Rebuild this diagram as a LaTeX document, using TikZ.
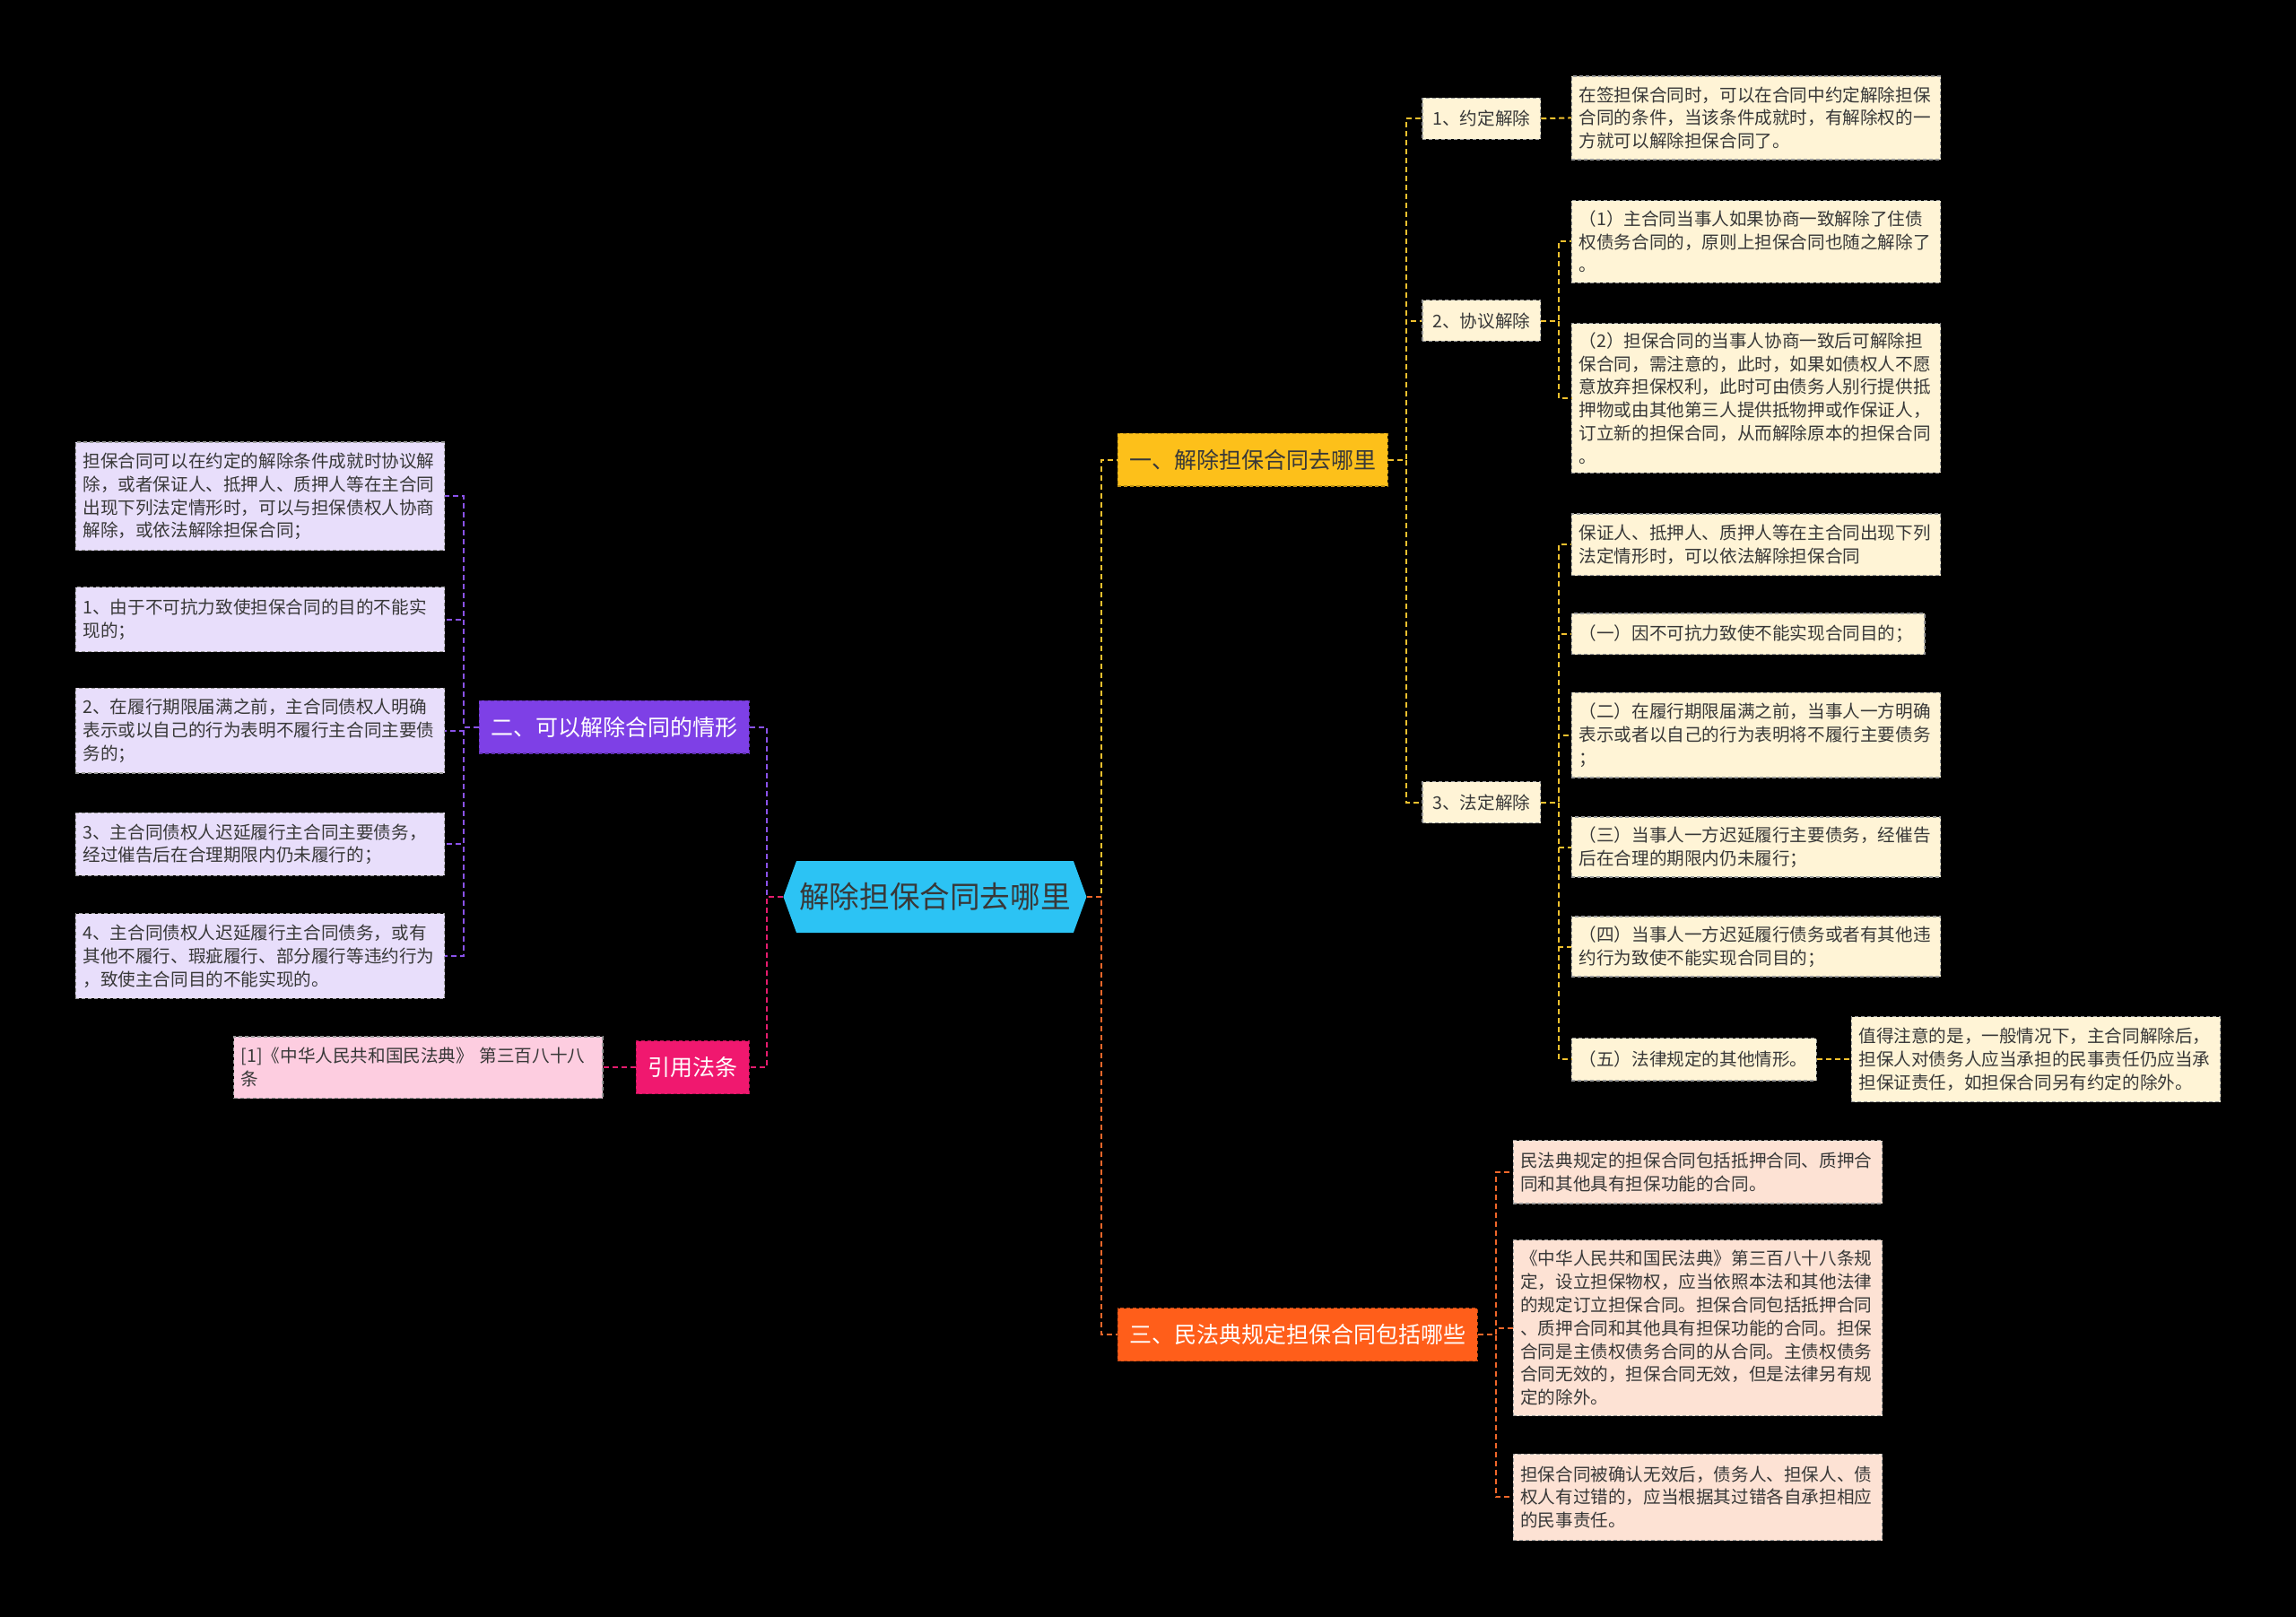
\documentclass[tikz,border=0pt]{standalone}
\usepackage{fontspec}
\setmainfont{Noto Sans CJK SC}
\usetikzlibrary{shapes.symbols}

\newlength\px
\setlength\px{0.8163pt}

\definecolor{rootblue}{HTML}{2CC3F4}
\definecolor{goldfill}{HTML}{FDC01A}
\definecolor{goldline}{HTML}{F2C12E}
\definecolor{purplefill}{HTML}{7E40E6}
\definecolor{purpleline}{HTML}{8A52EA}
\definecolor{rosefill}{HTML}{F0186F}
\definecolor{roseline}{HTML}{E51C6E}
\definecolor{orangefill}{HTML}{FF5E1A}
\definecolor{orangeline}{HTML}{F0672A}
\definecolor{cream}{HTML}{FFF4D6}
\definecolor{lavender}{HTML}{E8DEFB}
\definecolor{peach}{HTML}{FDE2D4}
\definecolor{pinkleaf}{HTML}{FDCDE0}
\definecolor{inkgray}{HTML}{383838}

\tikzset{
  rootbox/.style={signal, signal to=east and west, signal pointer angle=140,
    fill=rootblue, minimum width=207\px, minimum height=49\px, inner sep=0pt,
    text=inkgray, font=\fontsize{16.8}{18}\selectfont},
  branchbox/.style={rectangle, fill=#1, draw=#1!75!black, dashed,
    dash pattern=on 2pt off 1.5pt, line width=0.6pt, inner xsep=8\px,
    minimum height=36\px, text=white, font=\fontsize{12.5}{15}\selectfont},
  subbox/.style={rectangle, fill=cream, draw=black!40, dashed,
    dash pattern=on 2pt off 1.5pt, line width=0.6pt, inner xsep=7\px,
    minimum height=28\px, text=inkgray, font=\fontsize{9.8}{12.9}\selectfont},
  leafbox/.style={rectangle, fill=#1, draw=black!40, dashed,
    dash pattern=on 2pt off 1.5pt, line width=0.6pt, inner xsep=5\px,
    inner ysep=2\px, align=left, text width=242\px, text=inkgray,
    font=\fontsize{9.8}{12.9}\selectfont},
  link/.style={draw=#1, dashed, dash pattern=on 3pt off 2pt, line width=1pt}
}

\begin{document}
\begin{tikzpicture}[x=0.8163pt, y=-0.8163pt]
  % Black page.
  \useasboundingbox (0,0) rectangle (1568,1104);
  \fill[black] (-4,-4) rectangle (1572,1108);

  % Root.
  \node[rootbox] (root) at (638.5,612.5) {解除担保合同去哪里};

  % Main branches.
  \node[branchbox=goldfill, text=inkgray, anchor=west] (yi) at (763,314) {一、解除担保合同去哪里};
  \node[branchbox=purplefill, anchor=east] (er) at (512,496.5) {二、可以解除合同的情形};
  \node[branchbox=rosefill, anchor=east] (yin) at (512,729) {引用法条};
  \node[branchbox=orangefill, anchor=west] (san) at (763,911.5) {三、民法典规定担保合同包括哪些};

  % Branch one: second level.
  \node[subbox, anchor=west] (yue) at (971,81) {1、约定解除};
  \node[subbox, anchor=west] (xie) at (971,219) {2、协议解除};
  \node[subbox, anchor=west] (fa) at (971,548) {3、法定解除};

  % Branch one: leaves.
  \node[leafbox=cream, anchor=west, minimum height=57\px] (yue1) at (1073,80.5)
    {在签担保合同时，可以在合同中约定解除担保\\合同的条件，当该条件成就时，有解除权的一\\方就可以解除担保合同了。};
  \node[leafbox=cream, anchor=west, minimum height=56\px] (xie1) at (1073,165)
    {（1）主合同当事人如果协商一致解除了住债\\权债务合同的，原则上担保合同也随之解除了\\。};
  \node[leafbox=cream, anchor=west, minimum height=102\px] (xie2) at (1073,272)
    {（2）担保合同的当事人协商一致后可解除担\\保合同，需注意的，此时，如果如债权人不愿\\意放弃担保权利，此时可由债务人别行提供抵\\押物或由其他第三人提供抵物押或作保证人，\\订立新的担保合同，从而解除原本的担保合同\\。};
  \node[leafbox=cream, anchor=west, minimum height=42\px] (fa1) at (1073,372)
    {保证人、抵押人、质押人等在主合同出现下列\\法定情形时，可以依法解除担保合同};
  \node[leafbox=cream, anchor=west, minimum height=28\px, text width=231\px] (fa2) at (1073,433)
    {（一）因不可抗力致使不能实现合同目的；};
  \node[leafbox=cream, anchor=west, minimum height=58\px] (fa3) at (1073,502)
    {（二）在履行期限届满之前，当事人一方明确\\表示或者以自己的行为表明将不履行主要债务\\；};
  \node[leafbox=cream, anchor=west, minimum height=41\px] (fa4) at (1073,578.5)
    {（三）当事人一方迟延履行主要债务，经催告\\后在合理的期限内仍未履行；};
  \node[leafbox=cream, anchor=west, minimum height=41\px] (fa5) at (1073,646.5)
    {（四）当事人一方迟延履行债务或者有其他违\\约行为致使不能实现合同目的；};
  \node[leafbox=cream, anchor=west, minimum height=29\px, text width=157\px] (fa6) at (1073,723.5)
    {（五）法律规定的其他情形。};
  \node[leafbox=cream, anchor=west, minimum height=58\px] (fa7) at (1264,723.5)
    {值得注意的是，一般情况下，主合同解除后，\\担保人对债务人应当承担的民事责任仍应当承\\担保证责任，如担保合同另有约定的除外。};

  % Branch two: leaves.
  \node[leafbox=lavender, anchor=east, minimum height=74\px] (er0) at (304,339)
    {担保合同可以在约定的解除条件成就时协议解\\除，或者保证人、抵押人、质押人等在主合同\\出现下列法定情形时，可以与担保债权人协商\\解除，或依法解除担保合同；};
  \node[leafbox=lavender, anchor=east, minimum height=44\px] (er1) at (304,423)
    {1、由于不可抗力致使担保合同的目的不能实\\现的；};
  \node[leafbox=lavender, anchor=east, minimum height=58\px] (er2) at (304,499)
    {2、在履行期限届满之前，主合同债权人明确\\表示或以自己的行为表明不履行主合同主要债\\务的；};
  \node[leafbox=lavender, anchor=east, minimum height=43\px] (er3) at (304,576.5)
    {3、主合同债权人迟延履行主合同主要债务，\\经过催告后在合理期限内仍未履行的；};
  \node[leafbox=lavender, anchor=east, minimum height=58\px] (er4) at (304,653)
    {4、主合同债权人迟延履行主合同债务，或有\\其他不履行、瑕疵履行、部分履行等违约行为\\，致使主合同目的不能实现的。};

  % Cited article.
  \node[leafbox=pinkleaf, anchor=east, minimum height=42\px] (yin1) at (412,729)
    {[1]《中华人民共和国民法典》 第三百八十八\\条};

  % Branch three: leaves.
  \node[leafbox=peach, anchor=west, minimum height=43\px] (san1) at (1033,800.5)
    {民法典规定的担保合同包括抵押合同、质押合\\同和其他具有担保功能的合同。};
  \node[leafbox=peach, anchor=west, minimum height=120\px] (san2) at (1033,907)
    {《中华人民共和国民法典》第三百八十八条规\\定，设立担保物权，应当依照本法和其他法律\\的规定订立担保合同。担保合同包括抵押合同\\、质押合同和其他具有担保功能的合同。担保\\合同是主债权债务合同的从合同。主债权债务\\合同无效的，担保合同无效，但是法律另有规\\定的除外。};
  \node[leafbox=peach, anchor=west, minimum height=59\px] (san3) at (1033,1022.5)
    {担保合同被确认无效后，债务人、担保人、债\\权人有过错的，应当根据其过错各自承担相应\\的民事责任。};

  % Connectors from the root.
  \draw[link=goldline] (root.east) -- ++(10,0) |- (yi.west);
  \draw[link=orangeline] (root.east) -- ++(10,0) |- (san.west);
  \draw[link=purpleline] (root.west) -- ++(-11,0) |- (er.east);
  \draw[link=roseline] (root.west) -- ++(-11,0) |- (yin.east);

  % Branch one connectors.
  \foreach \n in {yue,xie,fa} {
    \draw[link=goldline] (yi.east) -- ++(12,0) |- (\n.west);
  }
  \draw[link=goldline] (yue.east) -- (yue1.west);
  \foreach \n in {xie1,xie2} {
    \draw[link=goldline] (xie.east) -- ++(12,0) |- (\n.west);
  }
  \foreach \n in {fa1,fa2,fa3,fa4,fa5,fa6} {
    \draw[link=goldline] (fa.east) -- ++(12,0) |- (\n.west);
  }
  \draw[link=goldline] (fa6.east) -- (fa7.west);

  % Branch two connectors.
  \foreach \n in {er0,er1,er2,er3,er4} {
    \draw[link=purpleline] (er.west) -- ++(-10,0) |- (\n.east);
  }
  \draw[link=roseline] (yin.west) -- (yin1.east);

  % Branch three connectors.
  \foreach \n in {san1,san2,san3} {
    \draw[link=orangeline] (san.east) -- ++(12,0) |- (\n.west);
  }
\end{tikzpicture}
\end{document}
